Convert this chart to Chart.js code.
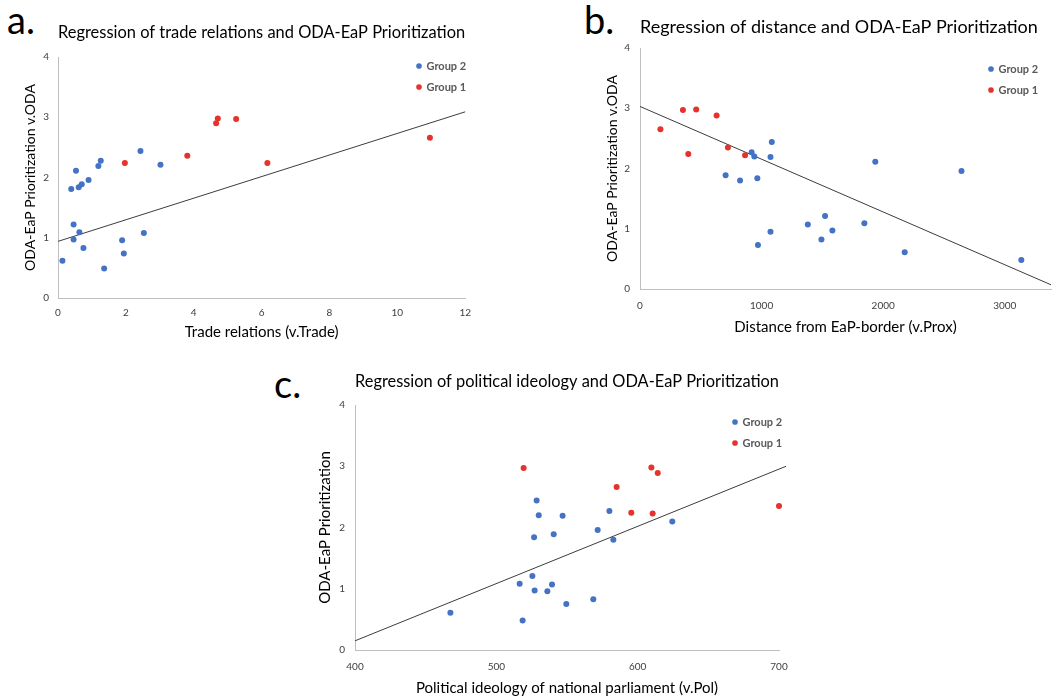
<!DOCTYPE html>
<html>
<head>
<meta charset="utf-8">
<script src="https://cdn.jsdelivr.net/npm/chart.js@4.4.1/dist/chart.umd.min.js"></script>
<style>
  html, body { margin: 0; padding: 0; background: #ffffff; }
  body { width: 1055px; height: 697px; position: relative; overflow: hidden; font-family: Lato, "Open Sans", sans-serif; }
  .box { position: absolute; }
  .tag { position: absolute; font-family: Lato, "Open Sans", sans-serif; font-size: 38px; color: #000; line-height: 1; }
</style>
</head>
<body>
<div class="tag" style="left:7px; top:0px;">a.</div>
<div class="tag" style="left:584px; top:0px;">b.</div>
<div class="tag" style="left:274px; top:364px;">c.</div>

<div class="box" style="left:0px; top:0px; width:480px; height:341px;"><canvas id="chA"></canvas></div>
<div class="box" style="left:580px; top:0px; width:475px; height:336px;"><canvas id="chB"></canvas></div>
<div class="box" style="left:260px; top:355px; width:540px; height:342px;"><canvas id="chC"></canvas></div>

<script>
// ---------- Data ----------
const yTicks = [0, 1, 2, 3, 4];

// a. Trade relations
const tradeTicks = [0, 2, 4, 6, 8, 10, 12];
const tradeG2X = [0.13, 0.39, 0.46, 0.46, 0.53, 0.61, 0.63, 0.70, 0.75, 0.90, 1.19, 1.26, 1.36, 1.89, 1.94, 2.43, 2.53, 3.02];
const tradeG2Y = [0.62, 1.81, 1.22, 0.97, 2.11, 1.84, 1.09, 1.89, 0.83, 1.96, 2.19, 2.28, 0.49, 0.96, 0.74, 2.44, 1.08, 2.21];
const tradeG1X = [1.97, 3.81, 4.66, 4.71, 5.25, 6.17, 10.96];
const tradeG1Y = [2.24, 2.36, 2.90, 2.98, 2.97, 2.24, 2.66];
const tradeFitX = [0, 12];
const tradeFitY = [0.94, 3.09];

// b. Distance from EaP-border
const proxTicks = [0, 1000, 2000, 3000];
const proxG2X = [704, 823, 918, 940, 965, 970, 1073, 1084, 1073, 1380, 1492, 1522, 1582, 1845, 1935, 2177, 2644, 3136];
const proxG2Y = [1.89, 1.80, 2.27, 2.20, 1.84, 0.73, 2.19, 2.44, 0.95, 1.07, 0.82, 1.21, 0.97, 1.09, 2.11, 0.61, 1.96, 0.48];
const proxG1X = [168, 353, 397, 462, 630, 723, 864];
const proxG1Y = [2.65, 2.97, 2.24, 2.98, 2.88, 2.35, 2.22];
const proxFitX = [0, 3380];
const proxFitY = [3.03, 0.07];

// c. Political ideology
const polTicks = [400, 500, 600, 700];
const polG2X = [467.5, 516.5, 518.6, 525.5, 526.7, 527.1, 528.5, 530.0, 536.1, 539.4, 540.6, 546.9, 549.5, 568.6, 571.7, 580.0, 582.8, 624.5];
const polG2Y = [0.61, 1.08, 0.48, 1.21, 1.84, 0.97, 2.44, 2.20, 0.96, 1.07, 1.89, 2.19, 0.75, 0.83, 1.96, 2.27, 1.80, 2.10];
const polG1X = [519.3, 585.1, 595.5, 609.7, 610.6, 614.2, 700];
const polG1Y = [2.97, 2.66, 2.24, 2.98, 2.23, 2.89, 2.35];
const polFitX = [400, 705];
const polFitY = [0.15, 3.00];

// ---------- Helpers ----------
const FONT = 'Lato, "Open Sans", sans-serif';
const BLUE = '#4472C4';
const RED = '#E5322A';
const AXIS = '#bfbfbf';

function pts(xs, ys) { return xs.map((x, i) => ({ x: x, y: ys[i] })); }

const legendPlacer = {
  id: 'legendPlacer',
  afterLayout(chart, args, opts) {
    const lg = chart.legend;
    if (!lg || opts.x === undefined) return;
    const w = lg.width, h = lg.height;
    lg.left = opts.x; lg.top = opts.y;
    lg.right = opts.x + w; lg.bottom = opts.y + h;
  }
};

function makeChart(id, cfg) {
  const datasets = [
    { label: 'Group 2', data: pts(cfg.g2x, cfg.g2y), backgroundColor: BLUE, borderColor: BLUE,
      pointRadius: 3, pointBorderWidth: 0, pointStyle: 'circle', clip: false },
    { label: 'Group 1', data: pts(cfg.g1x, cfg.g1y), backgroundColor: RED, borderColor: RED,
      pointRadius: 3, pointBorderWidth: 0, pointStyle: 'circle', clip: false },
    { label: 'Trend', data: pts(cfg.fitx, cfg.fity), showLine: true, borderColor: '#3c3c3c',
      borderWidth: 1, pointRadius: 0, fill: false, clip: false }
  ];
  return new Chart(document.getElementById(id), {
    type: 'scatter',
    data: { datasets: datasets },
    plugins: [legendPlacer],
    options: {
      responsive: true,
      maintainAspectRatio: false,
      animation: false,
      events: [],
      layout: { padding: { left: cfg.padLeft, right: cfg.padRight, top: 0, bottom: 0 } },
      plugins: {
        tooltip: { enabled: false },
        title: {
          display: true, text: cfg.title, color: '#000', fullSize: false, align: cfg.titleAlign,
          font: { family: FONT, size: 18, weight: 'normal', lineHeight: 1.2 },
          padding: { top: cfg.titleTop, bottom: cfg.titleBottom }
        },
        legend: {
          display: true, position: 'chartArea', align: 'start',
          labels: {
            usePointStyle: true, boxWidth: 4, boxHeight: 4, padding: 10,
            color: '#595959', font: { family: FONT, size: 11, weight: 'bold' },
            filter: (item) => item.datasetIndex < 2
          }
        },
        legendPlacer: { x: cfg.legX, y: cfg.legY }
      },
      scales: {
        x: {
          type: 'linear', min: cfg.xMin, max: cfg.xMax,
          afterBuildTicks: (s) => { s.ticks = cfg.xTicks.map(v => ({ value: v })); },
          afterFit: (s) => { s.height = cfg.xAxisH; },
          grid: { display: false, drawTicks: false },
          border: { display: true, color: AXIS, width: 1 },
          ticks: { color: '#404040', padding: cfg.xTickPad, maxRotation: 0,
                   callback: (v) => String(v), font: { family: FONT, size: 10 } },
          title: { display: true, text: cfg.xTitle, color: '#000', padding: { top: 4, bottom: 0 },
                   font: { family: FONT, size: 15, lineHeight: 1.2 } }
        },
        y: {
          type: 'linear', min: 0, max: 4,
          afterBuildTicks: (s) => { s.ticks = yTicks.map(v => ({ value: v })); },
          afterFit: (s) => { s.width = cfg.yAxisW; },
          grid: { display: false, drawTicks: false },
          border: { display: true, color: AXIS, width: 1 },
          ticks: { color: '#404040', padding: cfg.yTickPad, callback: (v) => String(v),
                   font: { family: FONT, size: 10 } },
          title: { display: true, text: cfg.yTitle, color: '#000', padding: { top: 4, bottom: 4 },
                   font: { family: FONT, size: cfg.yTitleSize, lineHeight: 1.2 } }
        }
      }
    }
  });
}

makeChart('chA', {
  g2x: tradeG2X, g2y: tradeG2Y, g1x: tradeG1X, g1y: tradeG1Y, fitx: tradeFitX, fity: tradeFitY,
  xTicks: tradeTicks, xMin: 0, xMax: 12,
  title: 'Regression of trade relations and ODA-EaP Prioritization', titleAlign: 'center',
  titleTop: 21.2, titleBottom: 14.2,
  xTitle: 'Trade relations (v.Trade)', yTitle: 'ODA-EaP Prioritization v.ODA', yTitleSize: 14,
  padLeft: 18, padRight: 10, yAxisW: 40, xAxisH: 43, xTickPad: 9, yTickPad: 9,
  legX: 407, legY: 50.5
});

makeChart('chB', {
  g2x: proxG2X, g2y: proxG2Y, g1x: proxG1X, g1y: proxG1Y, fitx: proxFitX, fity: proxFitY,
  xTicks: proxTicks, xMin: 0, xMax: 3380,
  title: 'Regression of distance and ODA-EaP Prioritization', titleAlign: 'start',
  titleTop: 16.2, titleBottom: 10.2,
  xTitle: 'Distance from EaP-border (v.Prox)', yTitle: 'ODA-EaP Prioritization v.ODA', yTitleSize: 14,
  padLeft: 20, padRight: 0, yAxisW: 40, xAxisH: 47, xTickPad: 11, yTickPad: 10,
  legX: 399, legY: 53.5
});

makeChart('chC', {
  g2x: polG2X, g2y: polG2Y, g1x: polG1X, g1y: polG1Y, fitx: polFitX, fity: polFitY,
  xTicks: polTicks, xMin: 400, xMax: 700,
  title: 'Regression of political ideology and ODA-EaP Prioritization', titleAlign: 'center',
  titleTop: 15.2, titleBottom: 13.2,
  xTitle: 'Political ideology of national parliament (v.Pol)', yTitle: 'ODA-EaP Prioritization', yTitleSize: 15,
  padLeft: 52, padRight: 21, yAxisW: 43, xAxisH: 47, xTickPad: 11, yTickPad: 10,
  legX: 463, legY: 51.5
});
</script>
</body>
</html>
